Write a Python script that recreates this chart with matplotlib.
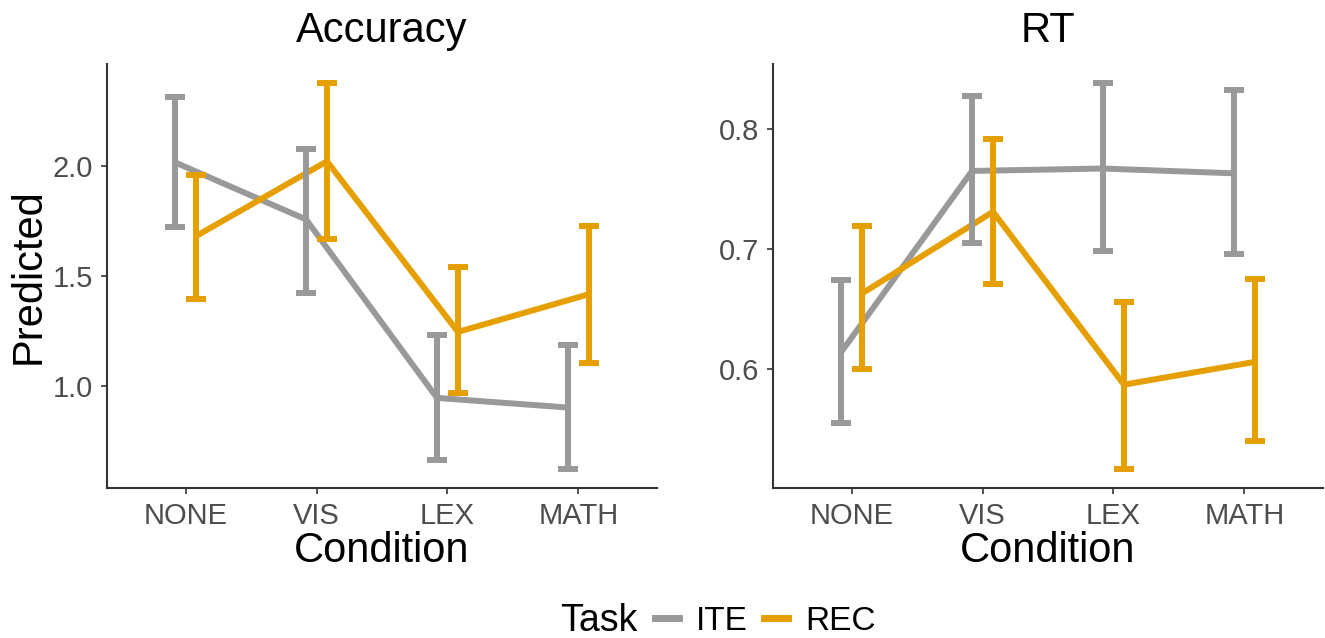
import numpy as np
import matplotlib
matplotlib.use("Agg")
import matplotlib.pyplot as plt
from matplotlib.lines import Line2D

plt.rcParams['font.family'] = ['Liberation Sans', 'DejaVu Sans']

# データ
conditions = ["NONE", "VIS", "LEX", "MATH"]
tasks = ["ITE", "REC"]

acc_ite = [2.018, 1.758, 0.944, 0.900]
acc_ite_lo = [1.723, 1.424, 0.662, 0.621]
acc_ite_hi = [2.318, 2.080, 1.233, 1.187]
acc_rec = [1.682, 2.023, 1.245, 1.417]
acc_rec_lo = [1.397, 1.667, 0.966, 1.103]
acc_rec_hi = [1.962, 2.379, 1.540, 1.727]

rt_ite = [0.614, 0.765, 0.767, 0.763]
rt_ite_lo = [0.555, 0.705, 0.698, 0.696]
rt_ite_hi = [0.674, 0.827, 0.838, 0.832]
rt_rec = [0.663, 0.731, 0.587, 0.606]
rt_rec_lo = [0.600, 0.671, 0.517, 0.540]
rt_rec_hi = [0.719, 0.792, 0.656, 0.675]

colors = {"ITE": "#999999", "REC": "#E69F00"}
dodge = {"ITE": -0.08, "REC": 0.08}

W, H = 1325, 638
fig = plt.figure(figsize=(W / 100, H / 100), dpi=100)


def panel(rect, title, series, yticks, ylabel=None):
    ax = fig.add_axes(rect)
    x = np.arange(1, len(conditions) + 1)
    allv = []
    for task, (m, lo, hi) in series.items():
        ax.plot(x + dodge[task], m, color=colors[task], lw=4.3,
                solid_capstyle='butt', zorder=2)
        allv += list(lo) + list(hi)
    for task, (m, lo, hi) in series.items():
        m, lo, hi = np.array(m), np.array(lo), np.array(hi)
        ax.errorbar(x + dodge[task], m, yerr=[m - lo, hi - m], fmt='none',
                    ecolor=colors[task], elinewidth=4.3, capsize=7.5,
                    capthick=4.3, zorder=3)
    # ggplot風の5%拡張
    lo_, hi_ = min(allv), max(allv)
    pad = 0.05 * (hi_ - lo_)
    ax.set_ylim(lo_ - pad, hi_ + pad)
    ax.set_xlim(0.4, len(conditions) + 0.6)
    ax.set_xticks(x)
    ax.set_xticklabels(conditions)
    ax.set_yticks(yticks)
    ax.set_yticklabels([f"{v:.1f}" for v in yticks])
    for s in ["top", "right"]:
        ax.spines[s].set_visible(False)
    for s in ["left", "bottom"]:
        ax.spines[s].set_color("#333333")
        ax.spines[s].set_linewidth(1.5)
    ax.tick_params(length=4, width=1.2, color="#333333", labelcolor="#4D4D4D",
                   labelsize=21, pad=6)
    ax.set_title(title, fontsize=30, pad=16)
    ax.set_xlabel("Condition", fontsize=30, labelpad=1)
    if ylabel:
        ax.set_ylabel(ylabel, fontsize=30, labelpad=3)
    return ax


bottom = (H - 488) / H
height = 424 / H
panel([107 / W, bottom, 550 / W, height], "Accuracy",
      {"ITE": (acc_ite, acc_ite_lo, acc_ite_hi),
       "REC": (acc_rec, acc_rec_lo, acc_rec_hi)},
      [1.0, 1.5, 2.0], ylabel="Predicted")
panel([773 / W, bottom, 550 / W, height], "RT",
      {"ITE": (rt_ite, rt_ite_lo, rt_ite_hi),
       "REC": (rt_rec, rt_rec_lo, rt_rec_hi)},
      [0.6, 0.7, 0.8])

# 凡例
ly = 1 - 621 / H
fig.text(560 / W, ly, "Task", fontsize=27, ha='left', va='center')
handles = [Line2D([0], [0], color=colors[t], lw=5) for t in tasks]
fig.legend(handles, tasks, loc='center left', bbox_to_anchor=(655 / W, ly),
           ncol=2, frameon=False, fontsize=24, handlelength=0.72,
           handletextpad=0.5, columnspacing=0.5, borderpad=0,
           borderaxespad=0)

fig.savefig("out.png", dpi=100)
